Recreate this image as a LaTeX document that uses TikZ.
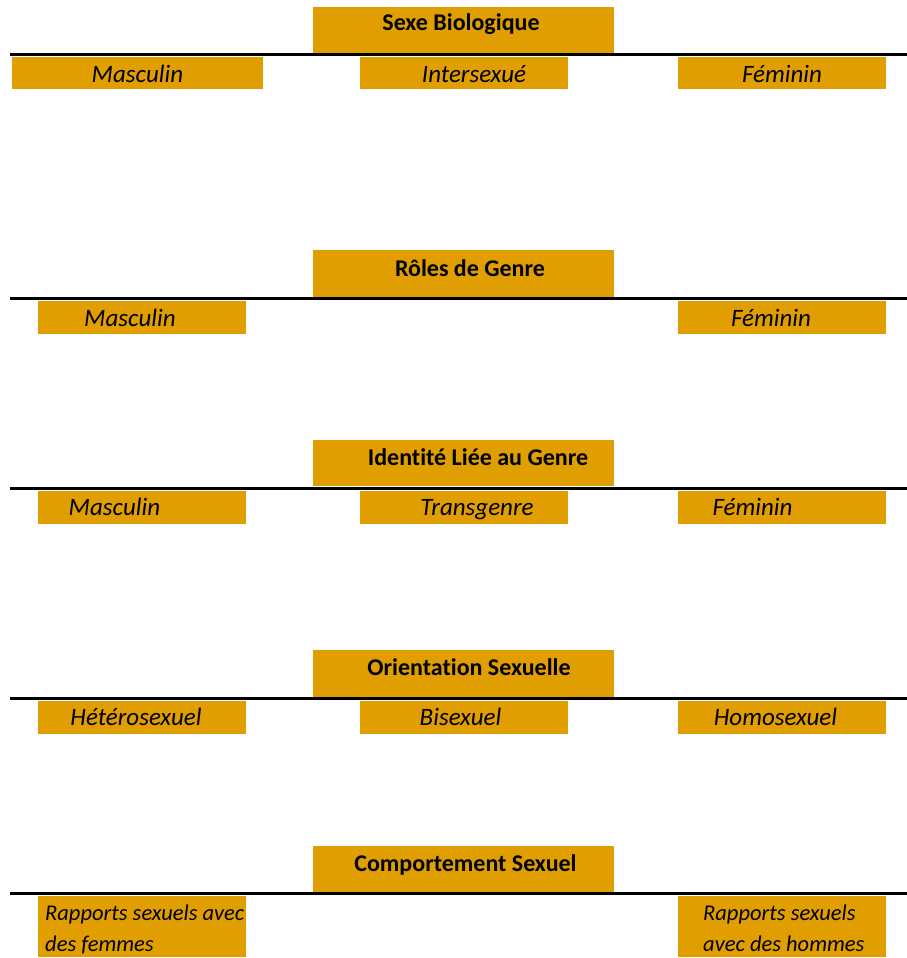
\documentclass[tikz,border=0pt]{standalone}
\usepackage{fontspec}
\setmainfont[Ligatures=CommonOff]{Carlito}
\definecolor{ochre}{RGB}{224,158,0}
\begin{document}
\begin{tikzpicture}[x=1pt,y=-1pt,
  tbox/.style={fill=ochre, draw=none, minimum width=301pt, minimum height=46pt, inner sep=0pt},
  sbox/.style={fill=ochre, draw=none, minimum height=31pt, inner sep=0pt},
  ttext/.style={font=\bfseries\fontsize{24}{28}\selectfont, inner sep=0pt, anchor=base},
  stext/.style={font=\itshape\fontsize{25}{30}\selectfont, inner sep=0pt, anchor=base},
  mtext/.style={font=\itshape\fontsize{22.5}{31}\selectfont, inner sep=0pt, align=left, anchor=north west},
  rule/.style={line width=3pt}]
\useasboundingbox (0,0) rectangle (907,958);
% ---------- Block 1
\node[tbox] (b1) at (463.5,30) {};
\node[ttext] (b1t) at (461,31) {Sexe Biologique};
\coordinate (l1a) at (10,55); \coordinate (l1b) at (907,55);
\draw[rule] (l1a) -- (l1b);
\node[sbox, minimum width=251pt] (b1m) at (137.5,73) {};
\node[sbox, minimum width=208pt] (b1i) at (464,73) {};
\node[sbox, minimum width=208pt] (b1f) at (782,73) {};
\node[stext] (b1mt) at (137.5,82) {Masculin};
\node[stext] (b1it) at (474,82) {Intersexué};
\node[stext] (b1ft) at (782,82) {Féminin};
% ---------- Block 2
\node[tbox, minimum height=47pt] (b2) at (463.5,273.5) {};
\node[ttext] (b2t) at (470,276) {Rôles de Genre};
\coordinate (l2a) at (10,298); \coordinate (l2b) at (907,298);
\draw[rule] (l2a) -- (l2b);
\node[sbox, minimum width=208pt, minimum height=33pt] (b2m) at (142,317.5) {};
\node[sbox, minimum width=208pt, minimum height=33pt] (b2f) at (782,317.5) {};
\node[stext] (b2mt) at (130,326) {Masculin};
\node[stext] (b2ft) at (771,326) {Féminin};
% ---------- Block 3
\node[tbox] (b3) at (463.5,463) {};
\node[ttext] (b3t) at (478,465) {Identité Liée au Genre};
\coordinate (l3a) at (10,488); \coordinate (l3b) at (907,488);
\draw[rule] (l3a) -- (l3b);
\node[sbox, minimum width=208pt, minimum height=33pt] (b3m) at (142,507.5) {};
\node[sbox, minimum width=208pt, minimum height=33pt] (b3t2) at (464,507.5) {};
\node[sbox, minimum width=208pt, minimum height=33pt] (b3f) at (782,507.5) {};
\node[stext] (b3mt) at (114.5,515) {Masculin};
\node[stext] (b3tt) at (477,515) {Transgenre};
\node[stext] (b3ft) at (752.5,515) {Féminin};
% ---------- Block 4
\node[tbox, minimum height=47pt] (b4) at (463.5,673.5) {};
\node[ttext] (b4t) at (469,675) {Orientation Sexuelle};
\coordinate (l4a) at (10,698); \coordinate (l4b) at (907,698);
\draw[rule] (l4a) -- (l4b);
\node[sbox, minimum width=208pt, minimum height=33pt] (b4h) at (142,717.5) {};
\node[sbox, minimum width=208pt, minimum height=33pt] (b4b) at (464,717.5) {};
\node[sbox, minimum width=208pt, minimum height=33pt] (b4o) at (782,717.5) {};
\node[stext] (b4ht) at (136,725) {Hétérosexuel};
\node[stext] (b4bt) at (460.5,725) {Bisexuel};
\node[stext] (b4ot) at (775.5,725) {Homosexuel};
% ---------- Block 5
\node[tbox, minimum height=46pt] (b5) at (463.5,869) {};
\node[ttext] (b5t) at (465.5,871) {Comportement Sexuel};
\coordinate (l5a) at (10,893); \coordinate (l5b) at (907,893);
\draw[rule] (l5a) -- (l5b);
\node[sbox, minimum width=208pt, minimum height=61pt] (b5l) at (142,926.5) {};
\node[sbox, minimum width=208pt, minimum height=61pt] (b5r) at (782,926.5) {};
\node[mtext] (b5lt) at (45,905) {Rapports sexuels avec\\des femmes};
\node[mtext] (b5rt) at (703,905) {Rapports sexuels\\avec des hommes};
\end{tikzpicture}
\end{document}
